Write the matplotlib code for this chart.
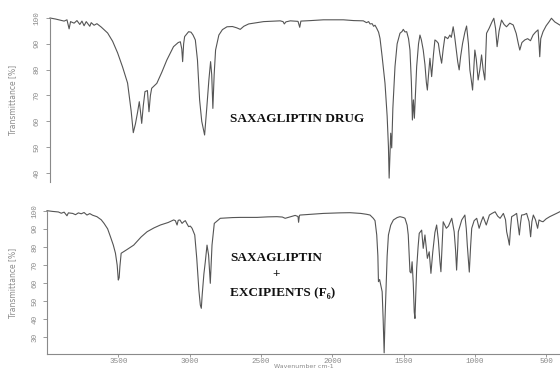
"""
FTIR spectra: saxagliptin drug vs saxagliptin + excipients (F6).
Values read off the reference picture.
"""

import matplotlib
matplotlib.use("Agg")
import matplotlib.pyplot as plt

# top spectrum: saxagliptin drug (wavenumber cm-1, transmittance %)
drug_wn = [3979, 3940, 3910, 3880, 3860, 3845, 3835, 3810, 3790, 3770, 3755, 3740,
           3725, 3700, 3690, 3670, 3650, 3620, 3600, 3575, 3540, 3505, 3470, 3435,
           3410, 3395, 3380, 3365, 3353, 3345, 3336, 3325, 3313, 3296, 3285, 3275,
           3266, 3230, 3195, 3160, 3113, 3080, 3065, 3055, 3049, 3042, 3035, 3007,
           2990, 2976, 2960, 2945, 2930, 2915, 2895, 2880, 2865, 2853, 2845, 2837,
           2828, 2818, 2795, 2770, 2738, 2700, 2670, 2645, 2620, 2586, 2481, 2365,
           2345, 2336, 2325, 2294, 2240, 2228, 2220, 2150, 2062, 1922, 1850, 1782,
           1760, 1745, 1735, 1720, 1710, 1700, 1688, 1675, 1665, 1650, 1630, 1615,
           1606, 1601, 1595, 1590, 1583, 1575, 1560, 1545, 1525, 1510, 1502, 1490,
           1478, 1465, 1455, 1445, 1438, 1431, 1424, 1415, 1408, 1395, 1385, 1375,
           1362, 1350, 1340, 1333, 1325, 1315, 1303, 1290, 1280, 1268, 1256, 1245,
           1233, 1222, 1210, 1190, 1175, 1165, 1152, 1142, 1133, 1120, 1110, 1100,
           1086, 1070, 1058, 1045, 1035, 1025, 1016, 1008, 1000, 990, 977, 965,
           953, 942, 930, 924, 918, 900, 880, 867, 855, 844, 830, 813,
           795, 778, 755, 731, 710, 695, 685, 670, 650, 630, 610, 592,
           575, 557, 550, 545, 538, 522, 500, 480, 463, 440, 420, 405]
drug_t = [100.0, 99.6, 99.2, 98.8, 99.3, 95.8, 98.6, 98.0, 99.0, 97.5, 98.8, 97.0,
          98.6, 96.8, 98.2, 97.2, 97.8, 96.5, 95.5, 94.2, 91.0, 86.5, 81.0, 74.8,
          64.0, 55.6, 59.0, 63.5, 67.6, 64.0, 59.2, 66.0, 71.5, 71.9, 63.7, 70.0,
          72.8, 74.7, 79.0, 83.7, 88.9, 90.5, 90.8, 88.0, 83.1, 90.0, 92.8, 94.7,
          94.5, 93.4, 91.5, 83.7, 68.3, 60.0, 54.7, 65.0, 76.0, 83.1, 78.0, 65.0,
          78.0, 87.6, 93.4, 95.5, 96.6, 96.7, 96.2, 95.6, 96.8, 97.7, 98.6, 98.9,
          98.6, 97.7, 98.5, 98.9, 98.7, 96.4, 98.8, 99.0, 99.3, 99.3, 99.0, 98.9,
          98.2, 98.6, 97.7, 97.8, 96.8, 97.2, 96.0, 94.5, 92.1, 85.0, 74.7, 62.0,
          50.2, 38.0, 48.0, 55.4, 49.7, 65.0, 81.2, 90.0, 94.1, 94.8, 95.6, 94.6,
          94.7, 92.0, 87.6, 75.0, 60.5, 68.3, 61.2, 72.0, 81.2, 90.0, 93.4, 91.5,
          87.6, 82.0, 75.0, 72.1, 78.0, 84.4, 77.3, 86.0, 91.5, 91.0, 90.2, 86.0,
          82.5, 88.0, 92.8, 92.0, 93.4, 92.5, 96.6, 93.0, 88.9, 83.0, 79.9, 85.0,
          90.2, 94.5, 96.9, 90.0, 79.9, 76.0, 72.1, 80.0, 87.6, 84.0, 76.0, 80.0,
          85.7, 80.0, 76.0, 85.0, 94.1, 96.0, 98.5, 99.9, 96.0, 88.9, 95.0, 99.2,
          97.5, 96.6, 98.0, 97.3, 94.0, 90.0, 87.6, 90.5, 91.5, 92.0, 91.2, 93.4,
          94.5, 95.4, 90.0, 85.0, 92.0, 94.7, 97.0, 98.5, 99.9, 98.5, 97.8, 97.3]

# bottom spectrum: saxagliptin + excipients (F6)
mix_wn = [4000, 3960, 3920, 3900, 3880, 3860, 3850, 3820, 3800, 3780, 3760, 3740,
          3720, 3700, 3680, 3650, 3620, 3600, 3575, 3555, 3535, 3520, 3508, 3500,
          3494, 3489, 3480, 3440, 3392, 3340, 3298, 3250, 3205, 3150, 3112, 3100,
          3088, 3080, 3068, 3053, 3040, 3030, 3020, 3007, 2995, 2983, 2964, 2950,
          2935, 2925, 2918, 2912, 2900, 2890, 2878, 2867, 2855, 2848, 2843, 2827,
          2785, 2700, 2645, 2528, 2450, 2388, 2350, 2330, 2300, 2260, 2240, 2236,
          2230, 2225, 2150, 2062, 1950, 1875, 1800, 1758, 1735, 1712, 1700, 1688,
          1680, 1676, 1668, 1660, 1650, 1643, 1636, 1630, 1622, 1615, 1606, 1590,
          1571, 1545, 1525, 1500, 1490, 1475, 1467, 1460, 1455, 1447, 1440, 1432,
          1425, 1420, 1414, 1408, 1398, 1390, 1373, 1362, 1350, 1333, 1320, 1308,
          1295, 1280, 1268, 1256, 1245, 1238, 1230, 1222, 1200, 1185, 1162, 1145,
          1135, 1128, 1120, 1116, 1092, 1070, 1060, 1053, 1039, 1030, 1022, 1005,
          987, 970, 955, 942, 920, 898, 880, 858, 840, 823, 800, 785,
          777, 765, 758, 750, 742, 725, 707, 698, 688, 680, 672, 655,
          637, 620, 609, 600, 590, 575, 560, 550, 535, 522, 500, 475,
          440, 420, 405]
mix_t = [100.0, 99.6, 99.3, 98.6, 99.2, 97.2, 98.8, 98.5, 97.8, 98.8, 98.3, 99.0,
         97.6, 98.4, 97.5, 96.7, 95.0, 93.0, 90.0, 85.6, 81.0, 76.5, 70.0, 61.7,
         63.0, 69.1, 76.5, 78.5, 81.0, 85.5, 88.4, 90.5, 92.1, 93.5, 94.9, 94.5,
         92.1, 94.7, 94.9, 93.0, 94.0, 94.5, 93.0, 91.2, 91.5, 90.3, 86.6, 73.7,
         56.0, 47.9, 46.1, 53.4, 65.0, 71.8, 81.0, 75.5, 59.9, 72.0, 81.0, 93.0,
         95.8, 96.2, 96.3, 96.3, 96.6, 96.7, 96.5, 95.8, 96.5, 97.4, 96.8, 93.6,
         97.4, 97.6, 98.0, 98.5, 98.8, 98.9, 98.5, 98.0, 97.6, 95.8, 94.5, 86.6,
         75.0, 60.8, 62.0, 59.0, 55.3, 40.0, 21.5, 40.0, 59.0, 75.0, 86.6, 92.0,
         94.9, 96.2, 96.7, 96.2, 95.8, 92.0, 86.6, 75.0, 66.3, 65.6, 71.8, 60.0,
         44.0, 40.5, 55.0, 68.2, 80.0, 87.5, 89.3, 79.2, 86.6, 73.7, 77.3, 65.4,
         77.3, 88.0, 92.1, 83.8, 72.0, 66.3, 80.0, 93.9, 90.3, 91.5, 95.8, 88.4,
         78.0, 67.2, 80.0, 88.4, 94.9, 97.6, 90.0, 81.0, 66.1, 80.0, 90.3, 94.5,
         95.8, 90.3, 94.0, 96.7, 92.1, 97.6, 98.5, 99.4, 97.0, 95.8, 98.5, 95.0,
         88.4, 84.0, 81.0, 90.0, 96.7, 97.5, 98.5, 93.0, 86.6, 93.0, 97.6, 97.8,
         98.5, 94.0, 85.6, 94.0, 97.6, 95.0, 90.3, 94.9, 94.2, 93.9, 95.5, 96.7,
         98.0, 98.8, 99.4]

drug_yticks = [40, 50, 60, 70, 80, 90, 100]
mix_yticks = [30, 40, 50, 60, 70, 80, 90, 100]
x_ticks = [3500, 3000, 2500, 2000, 1500, 1000, 500]

line_col = "#555555"
axis_col = "#8a8a8a"
tick_font = dict(family="Liberation Mono", size=5.5, color="#999999")
label_font = dict(family="DejaVu Sans", size=5.5, color="#8a8a8a")
title_fam = ["Liberation Serif", "DejaVu Serif"]

fig = plt.figure(figsize=(5.6, 3.69), dpi=100)

# ---- top panel: drug ----
ax1 = fig.add_axes([50 / 560, 1 - 182 / 369, 510 / 560, 164 / 369])
ax1.plot(drug_wn, drug_t, color=line_col, lw=0.8, clip_on=False)
ax1.set_xlim(3979, 403)
ax1.set_ylim(36.5, 100)
for s in ["top", "right", "bottom"]:
    ax1.spines[s].set_visible(False)
ax1.spines["left"].set_color(axis_col)
ax1.spines["left"].set_linewidth(0.8)
ax1.set_xticks([])
ax1.set_yticks(drug_yticks)
ax1.set_yticklabels([str(v) for v in drug_yticks], rotation=90, va="center", **tick_font)
ax1.tick_params(axis="y", colors=axis_col, length=3, width=0.6, pad=4)
ax1.set_ylabel("Transmittance [%]", **label_font)
ax1.yaxis.set_label_coords(-0.065, 0.5)
ax1.text(2246, 60.9, "SAXAGLIPTIN DRUG", ha="center", va="center",
         family=title_fam, fontweight="bold", fontsize=9.5, color="#111111")

# ---- bottom panel: drug + excipients ----
ax2 = fig.add_axes([47 / 560, 1 - 354.3 / 369, 513 / 560, 143.6 / 369])
ax2.plot(mix_wn, mix_t, color=line_col, lw=0.8, clip_on=False)
ax2.set_xlim(4000, 403)
ax2.set_ylim(20.7, 100)
for s in ["top", "right"]:
    ax2.spines[s].set_visible(False)
for s in ["left", "bottom"]:
    ax2.spines[s].set_color(axis_col)
    ax2.spines[s].set_linewidth(0.8)
ax2.set_yticks(mix_yticks)
ax2.set_yticklabels([str(v) for v in mix_yticks], rotation=90, va="center", **tick_font)
ax2.set_xticks(x_ticks)
ax2.set_xticklabels([str(v) for v in x_ticks], **tick_font)
ax2.tick_params(axis="y", colors=axis_col, length=3, width=0.6, pad=3)
ax2.tick_params(axis="x", colors=axis_col, length=2.5, width=0.6, pad=0.5)
ax2.set_ylabel("Transmittance [%]", **label_font)
ax2.yaxis.set_label_coords(-0.058, 0.5)
ax2.set_xlabel("Wavenumber cm-1", family="DejaVu Sans", size=4.5, color="#8a8a8a",
               va="center")
ax2.xaxis.set_label_coords(0.5, -0.086)
ax2.text(2714, 73.9, "SAXAGLIPTIN", ha="left", va="center",
         family=title_fam, fontweight="bold", fontsize=9.5, color="#111111")
ax2.text(2393, 65.0, "+", ha="center", va="center",
         family=title_fam, fontweight="bold", fontsize=9.5, color="#111111")
ax2.text(2714, 54.3, "EXCIPIENTS (F\u2086)", ha="left", va="center",
         family=title_fam, fontweight="bold", fontsize=9.5, color="#111111")

fig.savefig("out.png", dpi=100)
